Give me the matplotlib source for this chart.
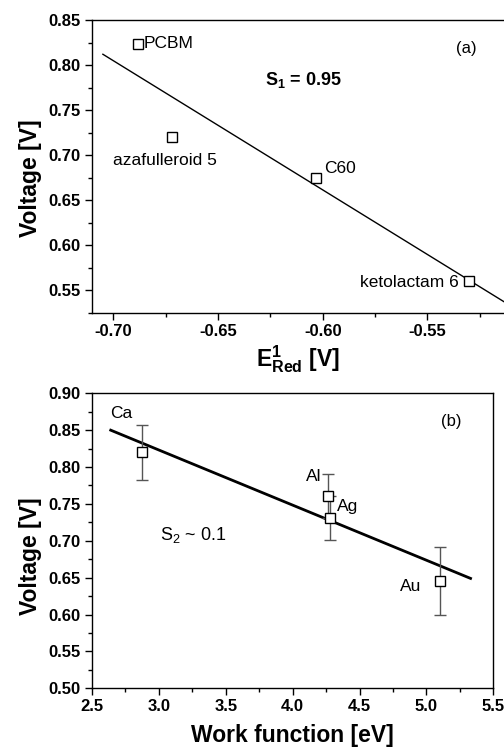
import matplotlib
matplotlib.use("Agg")
import matplotlib.pyplot as plt
import numpy as np
from matplotlib.ticker import MultipleLocator, FormatStrFormatter

plt.rcParams['font.family'] = ['Liberation Sans', 'DejaVu Sans']
plt.rcParams['mathtext.fontset'] = 'custom'
plt.rcParams['mathtext.rm'] = 'Liberation Sans'
plt.rcParams['mathtext.it'] = 'Liberation Sans:italic'
plt.rcParams['mathtext.bf'] = 'Liberation Sans:bold'
plt.rcParams['axes.unicode_minus'] = False

# ---- panel (a) data ----
a_names = ["PCBM", "azafulleroid 5", "C60", "ketolactam 6"]
a_x = [-0.688, -0.672, -0.603, -0.530]
a_y = [0.823, 0.720, 0.675, 0.560]
a_fit_x = [-0.705, -0.5134]
a_fit_y = [0.812, 0.5375]

# ---- panel (b) data ----
b_names = ["Ca", "Al", "Ag", "Au"]
b_x = [2.874, 4.262, 4.280, 5.101]
b_y = [0.820, 0.761, 0.731, 0.645]
b_err = [0.037, 0.030, 0.030, 0.046]
b_fit_x = [2.64, 5.33]
b_fit_y = [0.850, 0.649]

W, H = 504, 747
fig = plt.figure(figsize=(W/100, H/100), dpi=100)

def px(x0, y0, x1, y1):
    return [x0/W, 1 - y1/H, (x1-x0)/W, (y1-y0)/H]

tick_fs = 12
lab_fs = 16.5
ann_fs = 12.5

def style(ax):
    ax.tick_params(which='major', direction='out', length=5, width=1, labelsize=tick_fs, pad=3)
    ax.tick_params(which='minor', direction='out', length=3, width=1)
    for lab in ax.get_xticklabels() + ax.get_yticklabels():
        lab.set_fontweight('bold')
    for s in ax.spines.values():
        s.set_linewidth(1.0)

# ---- (a) ----
ax1 = fig.add_axes(px(92, 20, 504, 313))
ax1.plot(a_fit_x, a_fit_y, color='black', lw=1.0)
ax1.plot(a_x, a_y, linestyle='none', marker='s', ms=6.5, mfc='white', mec='black', mew=1.0)
ax1.set_xlim(-0.7102, -0.5134)
ax1.set_ylim(0.525, 0.85)
ax1.xaxis.set_major_locator(MultipleLocator(0.05))
ax1.xaxis.set_minor_locator(MultipleLocator(0.025))
ax1.yaxis.set_major_locator(MultipleLocator(0.05))
ax1.yaxis.set_minor_locator(MultipleLocator(0.025))
ax1.xaxis.set_major_formatter(FormatStrFormatter('%.2f'))
ax1.yaxis.set_major_formatter(FormatStrFormatter('%.2f'))
ax1.spines['right'].set_visible(False)
style(ax1)
ax1.set_ylabel('Voltage [V]', fontsize=lab_fs, fontweight='bold')
ax1.yaxis.set_label_coords(-(92-42)/412, 1 - (178-20)/293)
ax1.set_xlabel(r'$\mathbf{E^{1}_{Red}}$ [V]', fontsize=lab_fs, fontweight='bold', labelpad=3)

ax1.text(-0.6855, 0.8237, "PCBM", fontsize=ann_fs, ha='left', va='center')
ax1.text(-0.6505, 0.6945, "azafulleroid 5", fontsize=ann_fs, ha='right', va='center')
ax1.text(-0.5995, 0.6857, "C60", fontsize=ann_fs, ha='left', va='center')
ax1.text(-0.5350, 0.5593, "ketolactam 6", fontsize=ann_fs, ha='right', va='center')
ax1.text(-0.5265, 0.8180, "(a)", fontsize=12, ha='right', va='center')
ax1.text(-0.609, 0.7830, r'$\mathbf{S_{1}}$ = 0.95', fontsize=13, fontweight='bold', ha='center', va='center')

# ---- (b) ----
ax2 = fig.add_axes(px(92, 393.3, 493.3, 688.3))
ax2.plot(b_fit_x, b_fit_y, color='black', lw=2.0)
ax2.errorbar(b_x, b_y, yerr=b_err, linestyle='none', ecolor='#555555', elinewidth=1.0,
             capsize=4.5, capthick=1.0, marker='s', ms=6.5, mfc='white', mec='black', mew=1.0)
ax2.set_xlim(2.5, 5.5)
ax2.set_ylim(0.5, 0.9)
ax2.xaxis.set_major_locator(MultipleLocator(0.5))
ax2.xaxis.set_minor_locator(MultipleLocator(0.25))
ax2.yaxis.set_major_locator(MultipleLocator(0.05))
ax2.yaxis.set_minor_locator(MultipleLocator(0.025))
ax2.xaxis.set_major_formatter(FormatStrFormatter('%.1f'))
ax2.yaxis.set_major_formatter(FormatStrFormatter('%.2f'))
style(ax2)
ax2.set_ylabel('Voltage [V]', fontsize=lab_fs, fontweight='bold')
ax2.yaxis.set_label_coords(-(92-42)/401.3, 1 - (556-393.3)/295)
ax2.set_xlabel('Work function [eV]', fontsize=lab_fs, fontweight='bold', labelpad=7)

ax2.text(2.635, 0.873, "Ca", fontsize=ann_fs, ha='left', va='center')
ax2.text(4.16, 0.7875, "Al", fontsize=ann_fs, ha='center', va='center')
ax2.text(4.33, 0.746, "Ag", fontsize=ann_fs, ha='left', va='center')
ax2.text(4.96, 0.638, "Au", fontsize=ann_fs, ha='right', va='center')
ax2.text(5.26, 0.862, "(b)", fontsize=12, ha='right', va='center')
ax2.text(3.01, 0.7075, r'S$_{2}$ ~ 0.1', fontsize=13, ha='left', va='center')

fig.savefig('out.png', dpi=100)
